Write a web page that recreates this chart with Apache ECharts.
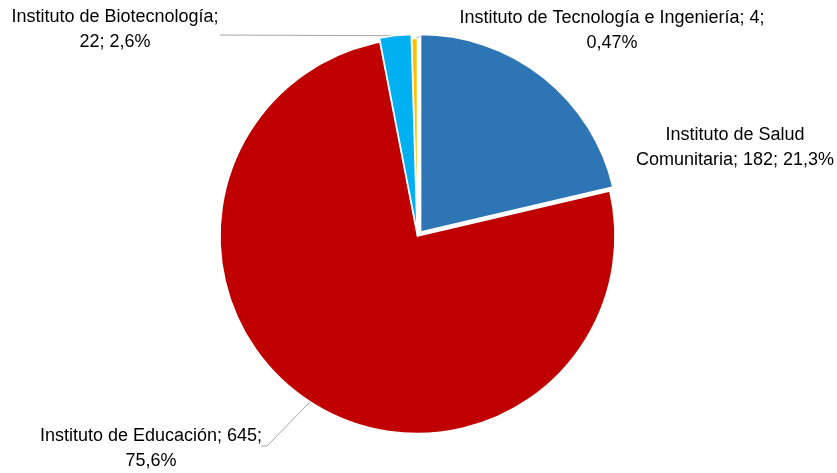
<!DOCTYPE html>
<html>
<head>
<meta charset="utf-8">
<script src="https://cdn.jsdelivr.net/npm/echarts@6/dist/echarts.min.js"></script>
<style>
html,body{margin:0;padding:0;background:#fff;}
#chart{width:837px;height:473px;}
</style>
</head>
<body>
<div id="chart"></div>
<script>
const categories = ['Instituto de Salud Comunitaria', 'Instituto de Educación', 'Instituto de Biotecnología', 'Instituto de Tecnología e Ingeniería'];
const values = [182, 645, 22, 4];
const percentLabels = ['21,3%', '75,6%', '2,6%', '0,47%'];
const labelTexts = [
  'Instituto de Salud\nComunitaria; 182; 21,3%',
  'Instituto de Educación; 645;\n75,6%',
  'Instituto de Biotecnología;\n22; 2,6%',
  'Instituto de Tecnología e Ingeniería; 4;\n0,47%'
];
const colors = ['#2E75B6', '#C00000', '#00B0F0', '#FFC000'];
const explodeDist = [5, 0, 4, 0];

const CX = 417.5, CY = 236, R = 197.5;
const total = values.reduce(function (a, b) { return a + b; }, 0);

// explosion offset of each slice along its mid angle (clockwise from 12 o'clock)
function sliceOffset(i) {
  let before = 0;
  for (let k = 0; k < i; k++) before += values[k];
  const mid = (before + values[i] / 2) / total * 2 * Math.PI;
  return [Math.sin(mid) * explodeDist[i], -Math.cos(mid) * explodeDist[i]];
}

// label placement (text centre) and leader-line end points
const labelPos = [
  {x: 735, y: 148, line: null},
  {x: 151, y: 449, line: [[267, 446], [261, 446]]},
  {x: 115, y: 30, line: [[220, 35], [220, 35]]},
  {x: 612, y: 31, line: [[425, 35], [433, 35]]}
];

const baseSeries = {
  type: 'pie',
  radius: [0, R],
  startAngle: 90,
  clockwise: true,
  silent: true,
  avoidLabelOverlap: false,
  emphasis: {disabled: true},
  itemStyle: {borderColor: '#ffffff', borderWidth: 1.5}
};

const series = [];
// main series: non-exploded slices + all labels
series.push(Object.assign({}, baseSeries, {
  center: [CX, CY],
  label: {
    show: true,
    position: 'outside',
    fontFamily: 'Liberation Sans, Arial, sans-serif',
    fontSize: 18,
    lineHeight: 25,
    color: '#000000',
    align: 'center',
    formatter: function (p) { return labelTexts[p.dataIndex]; }
  },
  labelLine: {show: true, lineStyle: {color: '#A6A6A6', width: 1}},
  labelLayout: function (params) {
    const i = params.dataIndex;
    const lp = labelPos[i];
    const res = {x: lp.x, y: lp.y, align: 'center', verticalAlign: 'middle'};
    if (lp.line) {
      const off = sliceOffset(i);
      const p0 = params.labelLinePoints ? [params.labelLinePoints[0][0] + off[0], params.labelLinePoints[0][1] + off[1]] : lp.line[0];
      res.labelLinePoints = [p0, lp.line[0], lp.line[1]];
    }
    return res;
  },
  data: categories.map(function (c, i) {
    const ex = explodeDist[i] > 0;
    return {
      name: c,
      value: values[i],
      itemStyle: ex ? {color: 'rgba(0,0,0,0)', borderWidth: 0} : {color: colors[i]},
      labelLine: {show: !!labelPos[i].line}
    };
  })
}));
// overlay series for each exploded slice
categories.forEach(function (c, j) {
  if (explodeDist[j] <= 0) return;
  const off = sliceOffset(j);
  series.push(Object.assign({}, baseSeries, {
    center: [CX + off[0], CY + off[1]],
    label: {show: false},
    labelLine: {show: false},
    data: categories.map(function (c2, i) {
      return {
        name: c2,
        value: values[i],
        itemStyle: i === j ? {color: colors[i]} : {color: 'rgba(0,0,0,0)', borderWidth: 0}
      };
    })
  }));
});

const chart = echarts.init(document.getElementById('chart'), null, {renderer: 'canvas'});
chart.setOption({backgroundColor: '#ffffff', animation: false, series: series});
</script>
</body>
</html>
